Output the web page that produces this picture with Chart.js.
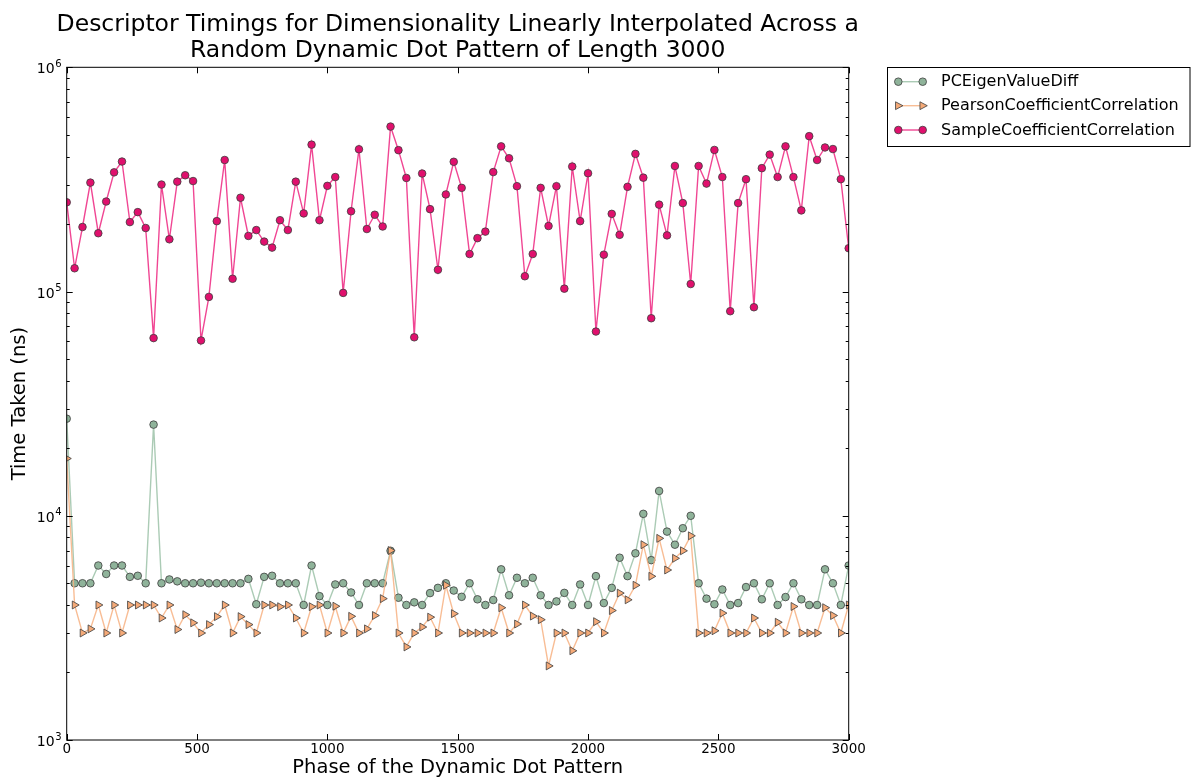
<!DOCTYPE html>
<html>
<head>
<meta charset="utf-8">
<script src="https://cdn.jsdelivr.net/npm/chart.js@4.4.1/dist/chart.umd.min.js"></script>
<style>
  html, body { margin: 0; padding: 0; background: #fff; }
  #wrap { width: 1202px; height: 784px; }
</style>
</head>
<body>
<div id="wrap"><canvas id="chart" width="1202" height="784"></canvas></div>
<script>
// phase positions (100 samples from 0 to 3000)
const phase = [0, 30.3, 60.6, 90.9, 121.2, 151.5, 181.8, 212.1, 242.4, 272.7,
  303.0, 333.3, 363.6, 393.9, 424.2, 454.5, 484.8, 515.2, 545.5, 575.8,
  606.1, 636.4, 666.7, 697.0, 727.3, 757.6, 787.9, 818.2, 848.5, 878.8,
  909.1, 939.4, 969.7, 1000.0, 1030.3, 1060.6, 1090.9, 1121.2, 1151.5, 1181.8,
  1212.1, 1242.4, 1272.7, 1303.0, 1333.3, 1363.6, 1393.9, 1424.2, 1454.5, 1484.8,
  1515.2, 1545.5, 1575.8, 1606.1, 1636.4, 1666.7, 1697.0, 1727.3, 1757.6, 1787.9,
  1818.2, 1848.5, 1878.8, 1909.1, 1939.4, 1969.7, 2000.0, 2030.3, 2060.6, 2090.9,
  2121.2, 2151.5, 2181.8, 2212.1, 2242.4, 2272.7, 2303.0, 2333.3, 2363.6, 2393.9,
  2424.2, 2454.5, 2484.8, 2515.2, 2545.5, 2575.8, 2606.1, 2636.4, 2666.7, 2697.0,
  2727.3, 2757.6, 2787.9, 2818.2, 2848.5, 2878.8, 2909.1, 2939.4, 2969.7, 3000.0];

const pcEigen = [27100, 5000, 5000, 5000, 6000, 5500, 6000, 6000, 5340, 5400,
  5000, 25500, 5000, 5200, 5100, 5000, 5000, 5030, 5000, 5000,
  5000, 5000, 5000, 5230, 4030, 5340, 5400, 5000, 5000, 5000,
  4000, 6000, 4380, 4000, 4940, 5000, 4550, 4000, 5000, 5000,
  5000, 6980, 4310, 4000, 4110, 4000, 4520, 4770, 5000, 4640,
  4350, 5000, 4240, 4000, 4210, 5770, 4420, 5290, 5000, 5290,
  4420, 4000, 4150, 4530, 4000, 4940, 4000, 5380, 4080, 4770,
  6500, 5380, 6800, 10200, 6340, 12900, 8500, 7430, 8800, 10000,
  5000, 4270, 4030, 4690, 4000, 4080, 4810, 5000, 4240, 5000,
  4000, 4340, 5000, 4240, 4000, 4000, 5770, 5000, 4000, 6000];

const pearson = [18000, 4000, 3000, 3130, 4000, 3000, 4000, 3000, 4000, 4000,
  4000, 4000, 3500, 4000, 3110, 3620, 3330, 3000, 3270, 3550,
  4000, 3000, 3550, 3270, 3000, 4000, 4000, 3930, 4000, 3500,
  3000, 3930, 4000, 3000, 3950, 3000, 3560, 3000, 3130, 3590,
  4270, 7000, 3000, 2600, 3000, 3190, 3530, 3000, 4900, 3660,
  3000, 3000, 3000, 3000, 3000, 3890, 3000, 3290, 4000, 3570,
  3440, 2140, 3000, 3000, 2500, 3000, 3000, 3370, 3000, 3780,
  4520, 4220, 4900, 7430, 5370, 7930, 5730, 6460, 6980, 8140,
  3000, 3000, 3070, 3680, 3000, 3000, 3000, 3500, 3000, 3000,
  3350, 3000, 3940, 3000, 3000, 3000, 3890, 3590, 3000, 4000];

const sample = [250000, 127000, 194000, 306000, 182000, 252000, 340000, 380000, 204000, 226000,
  192000, 62000, 300000, 171000, 309000, 330000, 311000, 60500, 94600, 206000,
  386000, 114000, 262000, 177000, 188000, 167000, 157000, 208000, 188000, 309000,
  223000, 452000, 208000, 296000, 324000, 98600, 228000, 431000, 190000, 220000,
  195000, 544000, 427000, 321000, 62500, 336000, 233000, 125000, 271000, 379000,
  290000, 147000, 173000, 185000, 341000, 444000, 393000, 295000, 117000, 147000,
  290000, 196000, 295000, 103000, 361000, 206000, 337000, 66300, 146000, 222000,
  179000, 293000, 411000, 322000, 76000, 244000, 178000, 363000, 248000, 108000,
  363000, 303000, 428000, 324000, 81700, 248000, 317000, 85100, 355000, 408000,
  324000, 444000, 324000, 230000, 493000, 386000, 439000, 432000, 317000, 156000];

const seriesNames = ["PCEigenValueDiff", "PearsonCoefficientCorrelation", "SampleCoefficientCorrelation"];
const xTicks = [0, 500, 1000, 1500, 2000, 2500, 3000];
const yDecades = [3, 4, 5, 6];

const FONT = "'DejaVu Sans', 'Liberation Sans', sans-serif";

function pts(vals) {
  return vals.map((v, i) => ({ x: phase[i], y: v }));
}

// frame, inward ticks, y labels with superscripts, titles and legend
const decor = {
  id: "decor",
  afterDraw(chart) {
    const { ctx, chartArea: a, scales: { x, y } } = chart;
    ctx.save();
    ctx.strokeStyle = "#000";
    ctx.lineWidth = 1;
    const seg = (x1, y1, x2, y2) => {
      ctx.beginPath(); ctx.moveTo(x1, y1); ctx.lineTo(x2, y2); ctx.stroke();
    };

    // y ticks (log, majors + minors)
    for (let e = 3; e <= 6; e++) {
      for (let m = 1; m <= 9; m++) {
        if (e === 6 && m > 1) break;
        const py = Math.round(y.getPixelForValue(m * Math.pow(10, e))) + 0.5;
        const len = m === 1 ? 6 : 3;
        seg(a.left, py, a.left + len, py);
        seg(a.right - len, py, a.right, py);
      }
    }
    // x ticks
    xTicks.forEach(v => {
      const px = Math.round(x.getPixelForValue(v)) + 0.5;
      seg(px, a.bottom, px, a.bottom - 6);
      seg(px, a.top, px, a.top + 6);
    });
    // frame
    ctx.strokeRect(a.left, a.top, a.right - a.left, a.bottom - a.top);

    // y tick labels 10^n
    ctx.fillStyle = "#000";
    ctx.textAlign = "right";
    ctx.textBaseline = "alphabetic";
    yDecades.forEach(e => {
      const py = y.getPixelForValue(Math.pow(10, e));
      ctx.font = "10px " + FONT;
      const sw = ctx.measureText(String(e)).width;
      ctx.fillText(String(e), 61.5, py - 0.5);
      ctx.font = "14px " + FONT;
      ctx.fillText("10", 61.5 - sw - 0.5, py + 6);
    });

    // title
    const cx = (a.left + a.right) / 2;
    ctx.textAlign = "center";
    ctx.font = "23.5px " + FONT;
    ctx.fillText("Descriptor Timings for Dimensionality Linearly Interpolated Across a", cx, 30.5);
    ctx.fillText("Random Dynamic Dot Pattern of Length 3000", cx, 56.5);

    // axis titles
    ctx.font = "19.5px " + FONT;
    ctx.textBaseline = "middle";
    ctx.fillText("Phase of the Dynamic Dot Pattern", cx, 768);
    ctx.save();
    ctx.translate(20, (a.top + a.bottom) / 2);
    ctx.rotate(-Math.PI / 2);
    ctx.fillText("Time Taken (ns)", 0, 0);
    ctx.restore();

    // legend
    ctx.strokeStyle = "#000";
    ctx.strokeRect(887.5, 67.5, 302.5, 79);
    const rows = [81.7, 105.7, 130];
    chart.data.datasets.forEach((ds, i) => {
      const ly = rows[i];
      ctx.strokeStyle = ds.borderColor;
      ctx.lineWidth = ds.borderWidth;
      seg(898.3, ly, 922.7, ly);
      [898.3, 922.7].forEach(mx => {
        ctx.fillStyle = ds.pointBackgroundColor;
        ctx.strokeStyle = ds.pointBorderColor;
        ctx.lineWidth = ds.pointBorderWidth;
        ctx.beginPath();
        if (ds.pointStyle === "triangle") {
          const r = ds.pointRadius;
          ctx.moveTo(mx + r, ly);
          ctx.lineTo(mx - r * 0.6, ly - r * 0.85);
          ctx.lineTo(mx - r * 0.6, ly + r * 0.85);
          ctx.closePath();
        } else {
          ctx.arc(mx, ly, ds.pointRadius, 0, Math.PI * 2);
        }
        ctx.fill();
        ctx.stroke();
      });
      ctx.fillStyle = "#000";
      ctx.textAlign = "left";
      ctx.textBaseline = "middle";
      ctx.font = "16px " + FONT;
      ctx.fillText(ds.label, 941, ly + 0.5);
    });
    ctx.restore();
  }
};

new Chart(document.getElementById("chart"), {
  type: "line",
  data: {
    datasets: [
      {
        label: seriesNames[0],
        data: pts(pcEigen),
        borderColor: "rgba(150, 190, 163, 0.8)",
        borderWidth: 1.4,
        pointStyle: "circle",
        pointRadius: 3.8,
        pointBackgroundColor: "#8fb39a",
        pointBorderColor: "#3c3c3c",
        pointBorderWidth: 0.8,
        order: 3,
        clip: 0
      },
      {
        label: seriesNames[1],
        data: pts(pearson),
        borderColor: "rgba(247, 178, 130, 0.85)",
        borderWidth: 1.4,
        pointStyle: "triangle",
        pointRotation: 90,
        pointRadius: 4.6,
        pointBackgroundColor: "#f5aa78",
        pointBorderColor: "#3c3c3c",
        pointBorderWidth: 0.8,
        order: 2,
        clip: 0
      },
      {
        label: seriesNames[2],
        data: pts(sample),
        borderColor: "rgba(238, 50, 135, 0.9)",
        borderWidth: 1.4,
        pointStyle: "circle",
        pointRadius: 3.8,
        pointBackgroundColor: "#e0106d",
        pointBorderColor: "#3c3c3c",
        pointBorderWidth: 0.8,
        order: 1,
        clip: 0
      }
    ]
  },
  options: {
    responsive: false,
    animation: false,
    events: [],
    layout: { padding: { top: 67.3, right: 1202 - 848.7, left: 0, bottom: 0 } },
    plugins: { legend: { display: false }, tooltip: { enabled: false }, title: { display: false } },
    elements: { line: { tension: 0 } },
    scales: {
      x: {
        type: "linear",
        min: 0,
        max: 3000,
        grid: { display: false, drawTicks: false },
        border: { display: false },
        ticks: {
          stepSize: 500,
          padding: 1,
          color: "#000",
          maxRotation: 0,
          font: { family: FONT, size: 13.5 },
          callback: v => String(v)
        },
        afterFit: s => { s.height = 44; }
      },
      y: {
        type: "logarithmic",
        min: 1000,
        max: 1000000,
        grid: { display: false, drawTicks: false },
        border: { display: false },
        ticks: { display: false },
        afterFit: s => { s.width = 66.7; }
      }
    }
  },
  plugins: [decor]
});
</script>
</body>
</html>
